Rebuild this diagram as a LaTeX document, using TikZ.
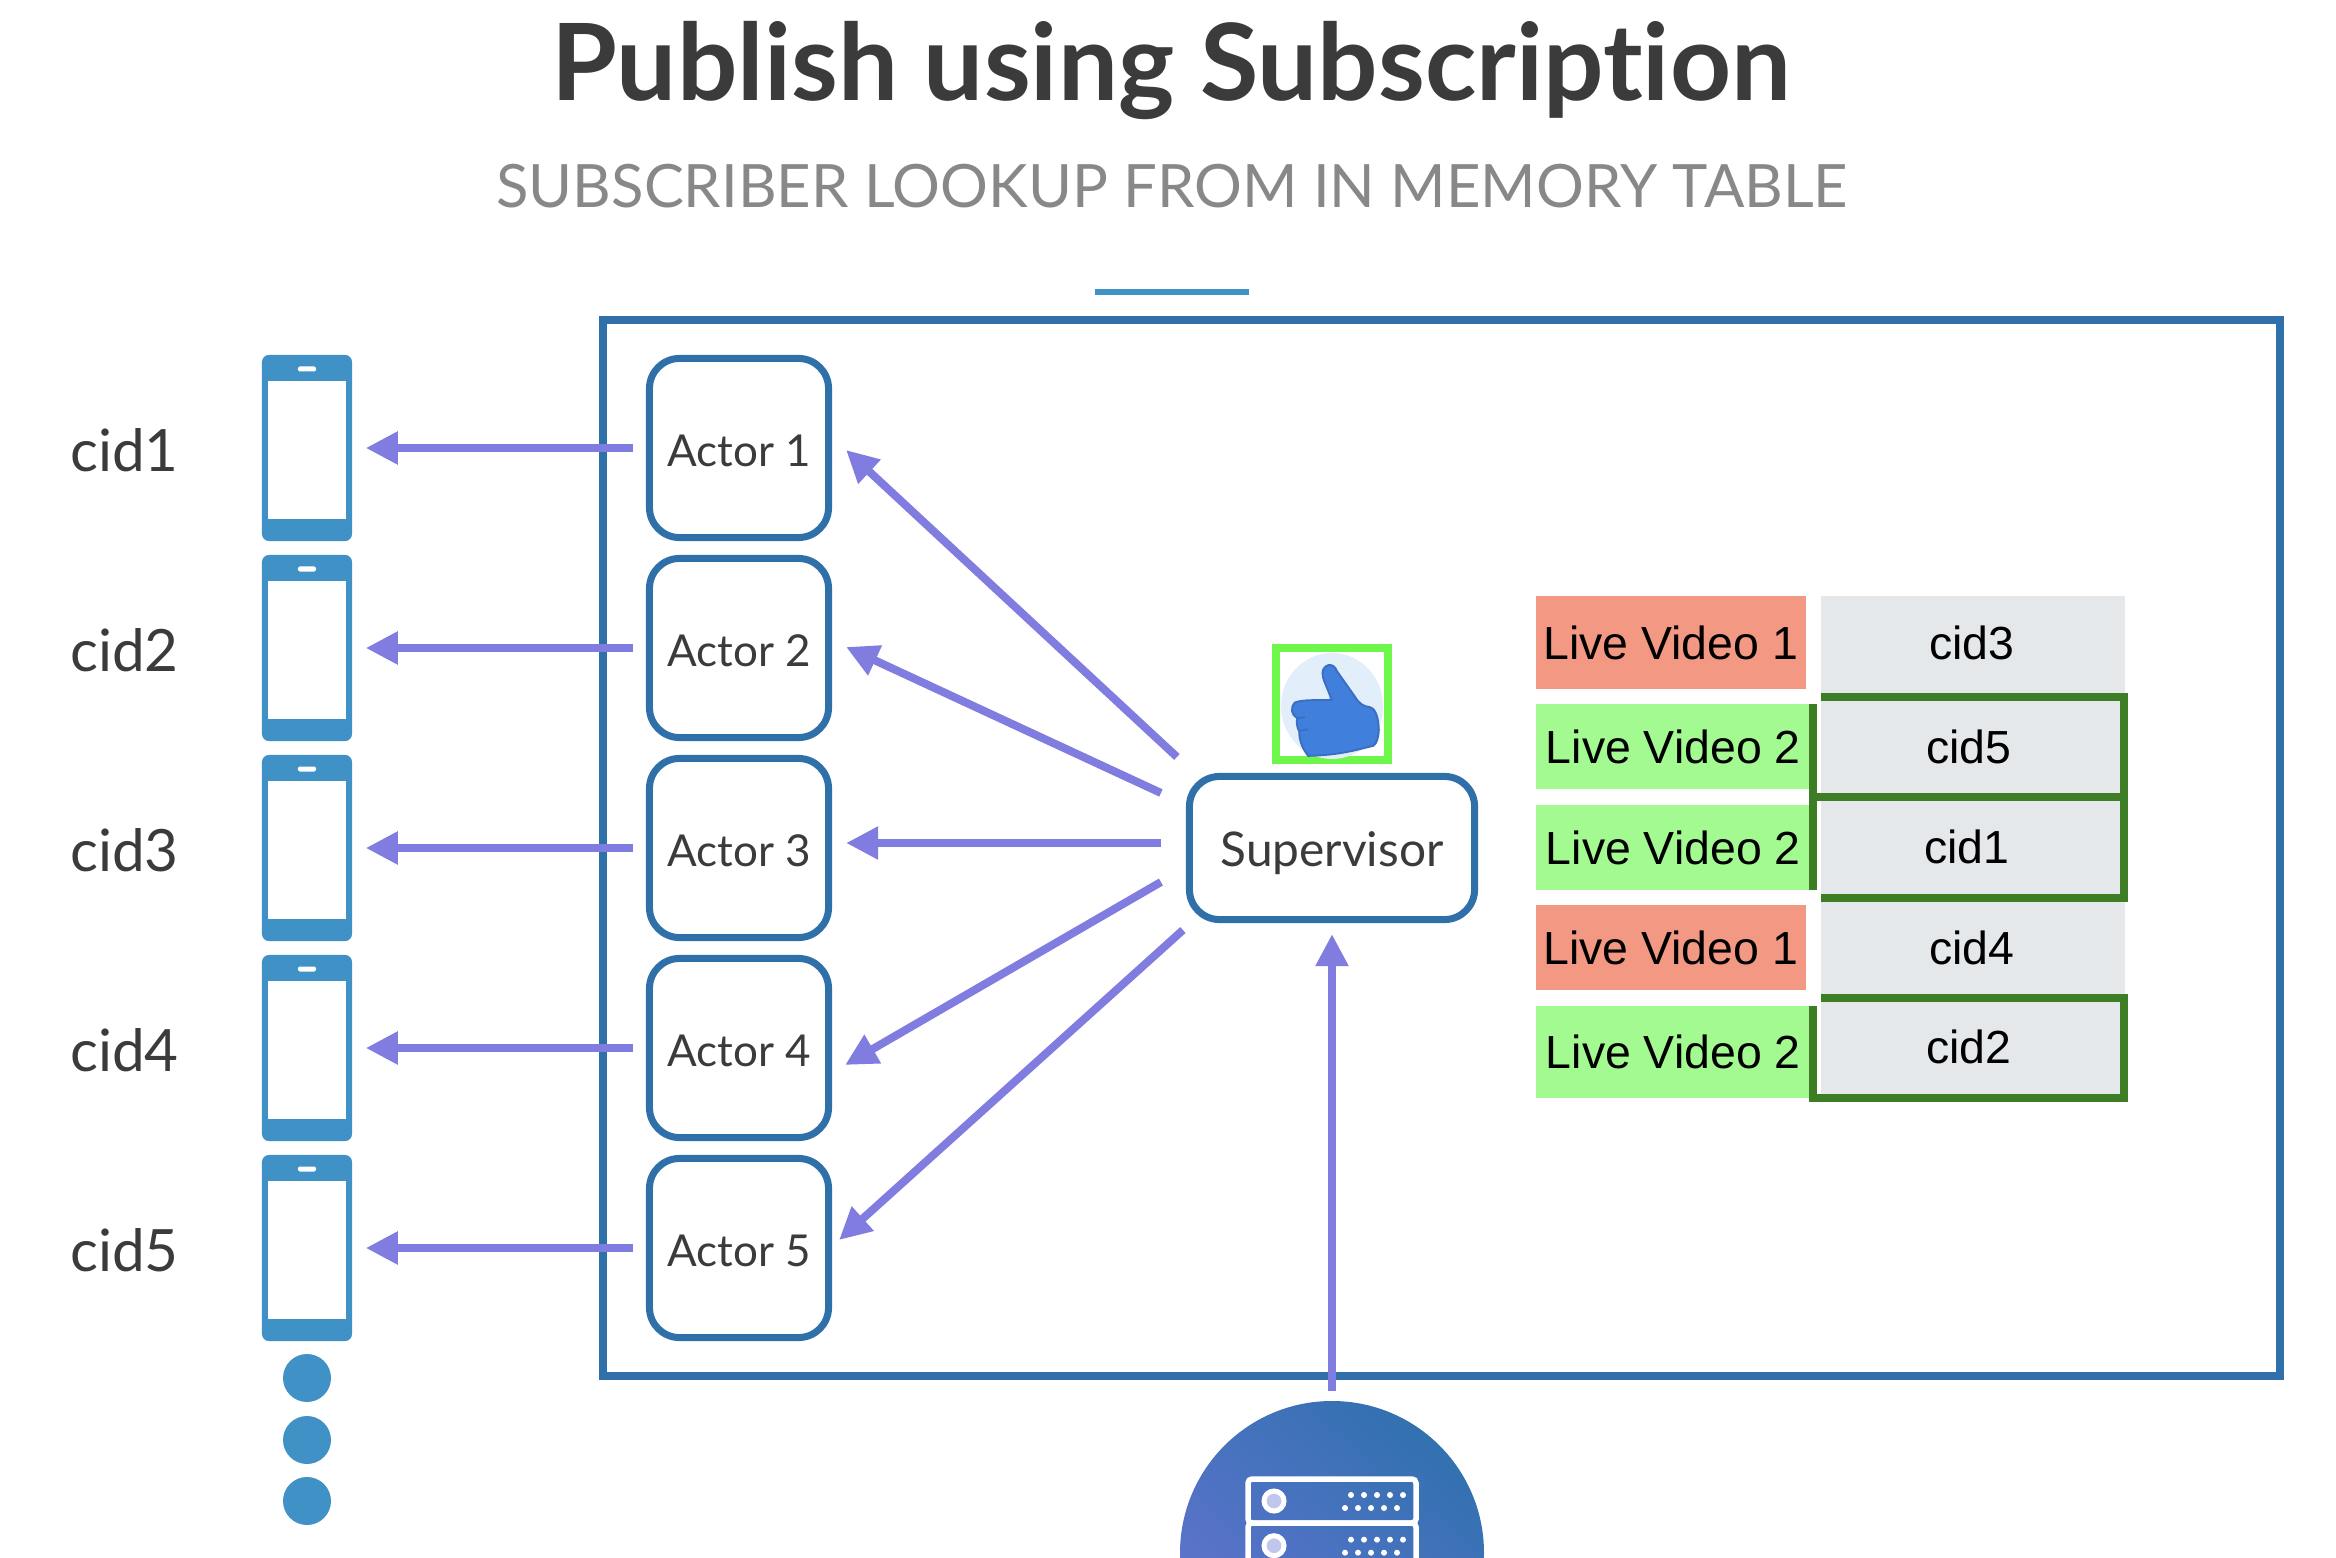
\documentclass[tikz,border=0pt]{standalone}
\usepackage{fontspec}
\setmainfont[Ligatures=NoCommon]{Lato}
\newfontfamily\cellfont{Liberation Sans}
\usepackage{xcolor}
\usetikzlibrary{arrows.meta, positioning, calc}
\definecolor{myframe}{HTML}{2F70A8}
\definecolor{myphone}{HTML}{4092C6}
\definecolor{myarrow}{HTML}{817CE0}
\definecolor{myink}{HTML}{3B3B3B}
\definecolor{mysub}{HTML}{888888}
\definecolor{myred}{HTML}{F39883}
\definecolor{mylime}{HTML}{A3FA90}
\definecolor{mygray}{HTML}{E5E8EB}
\definecolor{mygreen}{HTML}{3C7D26}
\definecolor{mylike}{HTML}{6FF64B}
\definecolor{mythumb}{HTML}{4080DC}
\definecolor{mythumbedge}{HTML}{3A6FC4}
\definecolor{mypale}{HTML}{E3EEFB}
\definecolor{myservera}{HTML}{6373D0}
\definecolor{myserverb}{HTML}{3271B0}
\tikzset{
  msgarrow/.style={myarrow, line width=0.08cm, -{Triangle[length=0.32cm, width=0.31cm]}},
  actorbox/.style={draw=myframe, line width=0.07cm, fill=white, rounded corners=0.3cm,
    minimum width=1.79cm, minimum height=1.79cm, inner sep=0pt, text=myink,
    text height=10.5pt, text depth=0pt, font=\fontsize{12.5pt}{14pt}\selectfont},
  phonebody/.style={fill=myphone, rounded corners=0.07cm, minimum width=0.9cm,
    minimum height=1.86cm, inner sep=0pt},
  phonescreen/.style={fill=white, minimum width=0.78cm, minimum height=1.38cm, inner sep=0pt},
  phonespeaker/.style={fill=white, rounded corners=0.02cm, minimum width=0.18cm,
    minimum height=0.05cm, inner sep=0pt},
  cidlabel/.style={text=myink, inner sep=0pt, font=\fontsize{16.6pt}{19pt}\selectfont},
  livecell/.style={inner sep=0pt, minimum height=#1, anchor=west, text=black,
    font=\cellfont\fontsize{13.2pt}{15pt}\selectfont},
  graycell/.style={fill=mygray, inner sep=0pt, minimum width=3.04cm, minimum height=1.01cm},
  cidtext/.style={inner sep=0pt, text=black, font=\cellfont\fontsize{13.2pt}{15pt}\selectfont},
  greenline/.style={mygreen, line width=0.075cm},
}
\begin{document}
\begin{tikzpicture}[x=0.01cm, y=-0.01cm]
\useasboundingbox (0, 0) rectangle (2336, 1558);
\fill[white] (0, 0) rectangle (2336, 1558);

\node[text=myink, inner sep=0pt, font=\fontsize{30.3pt}{34pt}\selectfont\bfseries] (title) at (1171, 71) {Publish using Subscription};
\node[text=mysub, inner sep=0pt, font=\fontsize{17pt}{20pt}\selectfont] (subtitle) at (1172, 186) {SUBSCRIBER LOOKUP FROM IN MEMORY TABLE};
\fill[myphone] (1095, 289) rectangle (1249, 295);

\draw[myframe, line width=0.08cm] (602.5, 320) rectangle (2280, 1376);

\foreach \i in {1,...,5} {
  \pgfmathsetmacro{\yc}{448+(\i-1)*200}
  \node[cidlabel] (cid\i) at (124.5, \yc+2) {cid\i};
  \node[phonebody] (phone\i) at (307, \yc) {};
  \node[phonescreen] (screen\i) at (307, \yc+2) {};
  \node[phonespeaker] (speaker\i) at (307, \yc-79) {};
  \node[actorbox] (actor\i) at (739, \yc) {Actor \i};
  \draw[msgarrow] ([shift={(-13,0)}]actor\i.west) -- ([shift={(13,0)}]phone\i.east);
}
\foreach \y in {1378, 1440, 1501} {
  \fill[myphone] (307, \y) circle (24);
}

\node[draw=myframe, line width=0.07cm, fill=white, rounded corners=0.3cm, minimum width=2.85cm,
  minimum height=1.43cm, inner sep=0pt, text=myink, text height=12.9pt, text depth=2.6pt,
  font=\fontsize{13.6pt}{16pt}\selectfont] (super) at (1332, 848) {Supervisor};

\draw[msgarrow] ([shift={(-9,-16)}]super.north west) -- ([shift={(14,2)}]actor1.east);
\draw[msgarrow] ([shift={(-25,20)}]super.north west) -- ([shift={(14,-1)}]actor2.east);
\draw[msgarrow] ([shift={(-25,-5)}]super.west) -- ([shift={(14,-5)}]actor3.east);
\draw[msgarrow] ([shift={(-25,-41)}]super.south west) -- ([shift={(13,17)}]actor4.east);
\draw[msgarrow] ([shift={(-3,7)}]super.south west) -- ([shift={(7,-8)}]actor5.east);

% like badge
\node[draw=mylike, line width=0.08cm, minimum width=1.12cm, minimum height=1.12cm, inner sep=0pt] (like) at (1332, 704) {};
\begin{scope}
\clip (1276, 648) rectangle (1388, 760);
\fill[mypale] (1332, 706) ellipse (51 and 53);
\end{scope}
\begin{scope}[shift={(1240, 630)}, x=0.00333cm, y=-0.00333cm]
\fill[mythumb, draw=mythumbedge, line width=0.02cm] (275, 210) .. controls (262, 170) and (248, 150) .. (248, 130)
  .. controls (248, 105) and (280, 92) .. (292, 125) -- (345, 200) .. controls (358, 222) and (372, 230) .. (390, 232)
  .. controls (412, 238) and (416, 275) .. (417, 300) .. controls (415, 325) and (412, 340) .. (400, 348)
  .. controls (350, 360) and (300, 376) .. (205, 378) .. controls (190, 360) and (178, 335) .. (178, 305)
  .. controls (170, 290) and (170, 275) .. (172, 265) .. controls (155, 255) and (150, 235) .. (165, 218)
  .. controls (190, 208) and (240, 212) .. (275, 210) -- cycle;
\draw[mythumbedge, line width=0.02cm] (172, 265) -- (195, 262);
\draw[mythumbedge, line width=0.02cm] (178, 303) -- (205, 298);
\end{scope}

% lookup table
\node[livecell=0.93cm, fill=myred, minimum width=2.70cm] (row1) at (1535, 642.5) {Live Video 1};
\node[livecell=0.85cm, fill=mylime, minimum width=2.75cm] (row2) at (1535, 746.5) {Live Video 2};
\node[livecell=0.85cm, fill=mylime, minimum width=2.75cm] (row3) at (1535, 847.5) {Live Video 2};
\node[livecell=0.85cm, fill=myred, minimum width=2.70cm] (row4) at (1535, 947.5) {Live Video 1};
\node[livecell=0.92cm, fill=mylime, minimum width=2.75cm] (row5) at (1535, 1052) {Live Video 2};

\foreach \cidname/\xt/\yt/\yc in {cid3/1972/643/646.5, cid5/1969/747/747, cid1/1967/847/847, cid4/1972/948/948, cid2/1969/1047/1048} {
  \node[graycell] (cell\cidname) at (1973, \yc) {};
  \node[cidtext] (text\cidname) at (\xt, \yt) {\cidname};
}
\draw[greenline] (1821, 697) -- (2124, 697) -- (2124, 898) -- (1821, 898);
\draw[greenline] (1817, 797) -- (2124, 797);
\draw[greenline] (1813, 704) -- (1813, 890);
\draw[greenline] (1821, 998) -- (2124, 998) -- (2124, 1098) -- (1809, 1098);
\draw[greenline] (1813, 1006) -- (1813, 1102);

% server
\begin{scope}
\clip (0, 0) rectangle (2336, 1558);
\shade[bottom color=myservera, top color=myserverb, shading angle=-40] (1332, 1553) circle (152);
\draw[white, line width=0.055cm, rounded corners=0.04cm] (1248, 1479) rectangle (1416, 1523);
\draw[white, line width=0.055cm, rounded corners=0.04cm] (1248, 1523) rectangle (1416, 1600);
\foreach \dy in {0, 44.7} {
  \fill[myservera!40!white] (1274, 1501+\dy) circle (10);
  \draw[white, line width=0.05cm] (1274, 1501+\dy) circle (10);
  \foreach \dx in {0, 13, 26, 39, 52} {
    \fill[white] (1351+\dx, 1495+\dy) circle (3);
    \fill[white] (1345+\dx, 1508+\dy) circle (3);
  }
}
\end{scope}
\node[inner sep=0pt, minimum size=1pt] (source) at (1332, 1393) {};
\draw[msgarrow] (source) -- ([shift={(0,11)}]super.south);
\end{tikzpicture}
\end{document}
